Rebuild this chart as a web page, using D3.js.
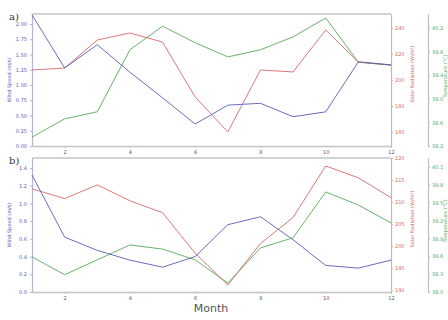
<!DOCTYPE html>
<html>
<head>
<meta charset="utf-8">
<script src="https://cdn.jsdelivr.net/npm/d3@7"></script>
<style>
  body { margin: 0; background: #fff; }
  text { font-family: "DejaVu Sans", sans-serif; }
</style>
</head>
<body>
<div id="chart"></div>
<script>
// months on the x axis
var months = [1, 2, 3, 4, 5, 6, 7, 8, 9, 10, 11, 12];
var xTicks = [2, 4, 6, 8, 10, 12];

// panel a)
var windA = [2.15, 1.28, 1.66, 1.21, 0.79, 0.36, 0.67, 0.70, 0.48, 0.56, 1.38, 1.33];
var radA  = [207.7, 209.2, 230.8, 236.2, 229.2, 186.9, 160.0, 207.7, 206.2, 238.5, 213.8, 211.5];
var tempA = [38.35, 38.66, 38.78, 39.83, 40.23, 39.95, 39.71, 39.83, 40.05, 40.37, 39.62, 39.57];
var windTicksA = [0, 0.25, 0.5, 0.75, 1.0, 1.25, 1.5, 1.75, 2.0];
var radTicksA  = [160, 180, 200, 220, 240];
var tempTicksA = [38.2, 38.6, 39.0, 39.4, 39.8, 40.2];

// panel b)
var windB = [1.32, 0.62, 0.47, 0.36, 0.28, 0.40, 0.76, 0.85, 0.59, 0.30, 0.27, 0.36];
var radB  = [213.0, 210.8, 213.9, 210.3, 207.6, 198.4, 191.2, 200.6, 206.5, 218.2, 215.5, 211.0];
var tempB = [38.59, 38.29, 38.54, 38.79, 38.72, 38.54, 38.15, 38.74, 38.91, 39.68, 39.46, 39.16];
var windTicksB = [0, 0.2, 0.4, 0.6, 0.8, 1.0, 1.2, 1.4];
var radTicksB  = [190, 195, 200, 205, 210, 215, 220];
var tempTicksB = [38.0, 38.3, 38.6, 38.9, 39.2, 39.5, 39.8, 40.1];

var config = {
  width: 448,
  height: 320,
  left: 32,
  right: 391,
  greenAxis: 428,
  blue: "#5c5cb8",
  red: "#d46a6a",
  green: "#5aa85a",
  tickFont: "5px"
};

var svg = d3.select("#chart")
  .append("svg")
  .attr("width", config.width)
  .attr("height", config.height);

var x = d3.scaleLinear().domain([1, 12]).range([config.left, config.right]);

var panels = [
  { label: "a)", top: 14, bottom: 146,
    wind: windA, rad: radA, temp: tempA,
    windDom: [0, 2.164], radDom: [149.2, 250.8], tempDom: [38.2, 40.437],
    windTicks: windTicksA, radTicks: radTicksA, tempTicks: tempTicksA,
    windFmt: ".2f", radFmt: "d", tempFmt: ".1f" },
  { label: "b)", top: 158, bottom: 292,
    wind: windB, rad: radB, temp: tempB,
    windDom: [0, 1.513], radDom: [189.6, 220.0], tempDom: [38.0, 40.25],
    windTicks: windTicksB, radTicks: radTicksB, tempTicks: tempTicksB,
    windFmt: ".1f", radFmt: "d", tempFmt: ".1f" }
];

function styleAxis(g, color, lineColor) {
  g.select(".domain").attr("stroke", lineColor).attr("stroke-width", 1.2);
  g.selectAll(".tick line").attr("stroke", lineColor);
  g.selectAll(".tick text")
    .attr("fill", color)
    .style("font-size", config.tickFont);
}

panels.forEach(function(p) {
  var yW = d3.scaleLinear().domain(p.windDom).range([p.bottom, p.top]);
  var yR = d3.scaleLinear().domain(p.radDom).range([p.bottom, p.top]);
  var yT = d3.scaleLinear().domain(p.tempDom).range([p.bottom, p.top]);

  // frame top line
  svg.append("line")
    .attr("x1", config.left).attr("x2", config.right)
    .attr("y1", p.top).attr("y2", p.top)
    .attr("stroke", "#c4c4c4").attr("stroke-width", 1.5);

  // x axis
  svg.append("g")
    .attr("transform", `translate(0, ${p.bottom})`)
    .call(d3.axisBottom(x).tickValues(xTicks).tickSize(2).tickSizeOuter(0).tickPadding(2))
    .call(g => styleAxis(g, "#555", "#c4c4c4"))
    .call(g => g.select(".domain").attr("stroke-width", 1.5));

  // left axis - wind speed
  svg.append("g")
    .attr("transform", `translate(${config.left}, 0)`)
    .call(d3.axisLeft(yW).tickValues(p.windTicks).tickFormat(d3.format(p.windFmt)).tickSize(2).tickSizeOuter(0).tickPadding(3))
    .call(g => styleAxis(g, config.blue, "#b4b4d4"));

  // right axis - radiation
  svg.append("g")
    .attr("transform", `translate(${config.right}, 0)`)
    .call(d3.axisRight(yR).tickValues(p.radTicks).tickFormat(d3.format(p.radFmt)).tickSize(2).tickSizeOuter(0).tickPadding(2))
    .call(g => styleAxis(g, config.red, "#c8b4b4"));

  // second right axis - temperature
  svg.append("g")
    .attr("transform", `translate(${config.greenAxis}, 0)`)
    .call(d3.axisRight(yT).tickValues(p.tempTicks).tickFormat(d3.format(p.tempFmt)).tickSize(2).tickSizeOuter(0).tickPadding(2))
    .call(g => styleAxis(g, config.green, "#b4c4b4"));

  var mid = (p.top + p.bottom) / 2;

  // axis titles
  svg.append("text")
    .attr("transform", `translate(11, ${mid}) rotate(-90)`)
    .attr("text-anchor", "middle")
    .attr("fill", config.blue)
    .style("font-size", "5px")
    .text("Wind Speed (m/s)");

  svg.append("text")
    .attr("transform", `translate(414, ${mid - 6}) rotate(-90)`)
    .attr("text-anchor", "middle")
    .attr("fill", config.red)
    .style("font-size", "5px")
    .text("Solar Radiation (W/m²)");

  svg.append("text")
    .attr("transform", `translate(447, ${mid - 4}) rotate(-90)`)
    .attr("text-anchor", "middle")
    .attr("fill", config.green)
    .style("font-size", "5px")
    .text("Temperature (°C)");

  // panel label
  svg.append("text")
    .attr("x", 9)
    .attr("y", p.top + 6)
    .attr("fill", "#333")
    .style("font-size", "10px")
    .style("font-family", "'DejaVu Serif', serif")
    .text(p.label);

  // lines
  var series = [
    { values: p.temp, y: yT, color: config.green },
    { values: p.rad, y: yR, color: config.red },
    { values: p.wind, y: yW, color: config.blue }
  ];

  series.forEach(function(s) {
    var line = d3.line()
      .x((d, i) => x(months[i]))
      .y(d => s.y(d));
    svg.append("path")
      .datum(s.values)
      .attr("d", line)
      .attr("fill", "none")
      .attr("stroke", s.color)
      .attr("stroke-width", 1)
      .attr("stroke-opacity", 0.9);
  });
});

svg.append("text")
  .attr("x", 211)
  .attr("y", 312)
  .attr("text-anchor", "middle")
  .attr("fill", "#555")
  .style("font-size", "11px")
  .text("Month");
</script>
</body>
</html>
